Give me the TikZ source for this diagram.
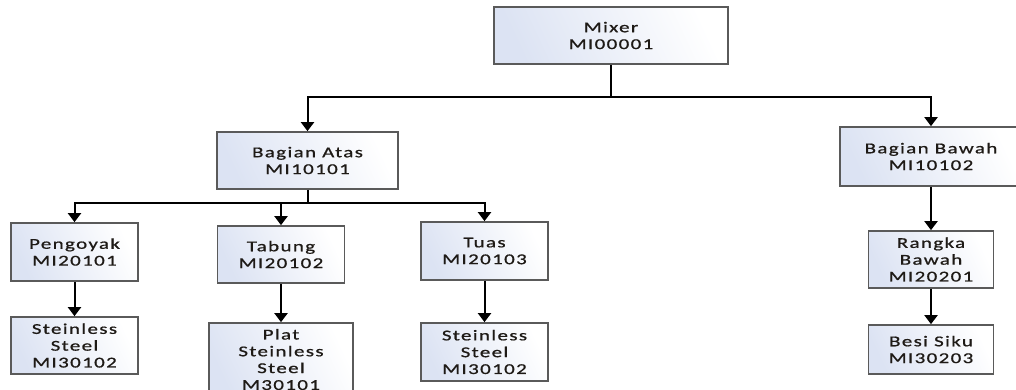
\documentclass[tikz,border=0pt]{standalone}
\usepackage{fontspec}
\newfontfamily\boxfont[FakeStretch=1.4,LetterSpace=9,FakeBold=0.8]{Carlito}
\usetikzlibrary{arrows.meta}
\definecolor{boxedge}{RGB}{90,90,90}
\definecolor{boxtint}{RGB}{220,227,243}
\definecolor{boxtext}{RGB}{30,26,22}
\begin{document}
\begin{tikzpicture}[x=1pt,y=-1pt,
  part/.style={draw=boxedge, line width=1.7pt,
    left color=boxtint, right color=white, shading angle=115,
    align=center, inner sep=0pt, text=boxtext,
    font=\boxfont\fontsize{15}{16.8}\selectfont},
  link/.style={line width=2pt, draw=black},
  feed/.style={link, -{Triangle[width=13pt,length=9pt]}}]
\useasboundingbox (0,0) rectangle (1016,389);

% level 0
\node[part, minimum width=234pt, minimum height=57pt] (mixer) at (611,35.5) {Mixer\\MI00001};

% level 1
\node[part, minimum width=181pt, minimum height=57pt] (atas) at (307.5,160.5) {Bagian Atas\\MI10101};
\node[part, minimum width=182pt, minimum height=59pt] (bawah) at (931,156.5) {Bagian Bawah\\MI10102};

% level 2
\node[part, minimum width=127pt, minimum height=58pt] (pengoyak) at (74.5,252) {Pengoyak\\MI20101};
\node[part, minimum width=127pt, minimum height=57pt] (tabung) at (281,254.5) {Tabung\\MI20102};
\node[part, minimum width=127pt, minimum height=58pt] (tuas) at (484.5,251) {Tuas\\MI20103};
\node[part, minimum width=125pt, minimum height=57pt] (rangka) at (931,259.5) {Rangka\\Bawah\\MI20201};

% level 3
\node[part, minimum width=127pt, minimum height=57pt] (ssA) at (74.5,345.5) {Steinless\\Steel\\MI30102};
\node[part, minimum width=144pt, minimum height=73pt] (plat) at (281,359.5) {Plat\\Steinless\\Steel\\M30101};
\node[part, minimum width=127pt, minimum height=58pt] (ssB) at (484.5,352) {Steinless\\Steel\\MI30102};
\node[part, minimum width=125pt, minimum height=49pt] (besi) at (931,349.5) {Besi Siku\\MI30203};

% branching buses
\coordinate (busTop) at (611,97);
\coordinate (busAtas) at (307.5,203);

\draw[link] (mixer.south) -- (busTop);
\draw[feed] (busTop) -| (atas.north);
\draw[feed] (busTop) -| (bawah.north);

\draw[link] (atas.south) -- (busAtas);
\draw[feed] (busAtas) -| (pengoyak.north);
\draw[feed] (busAtas) -| (tabung.north);
\draw[feed] (busAtas) -| (tuas.north);

% single links
\draw[feed] (pengoyak.south) -- (ssA.north);
\draw[feed] (tabung.south) -- (plat.north);
\draw[feed] (tuas.south) -- (ssB.north);
\draw[feed] (bawah.south) -- (rangka.north);
\draw[feed] (rangka.south) -- (besi.north);
\end{tikzpicture}
\end{document}
